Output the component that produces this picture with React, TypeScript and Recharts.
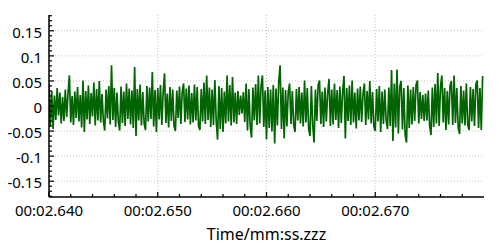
import { LineChart, Line, XAxis, YAxis, CartesianGrid } from 'recharts';

const START_TIME = 2.64;
const SAMPLE_STEP = 0.000125;

// amplitude samples, left to right
const SIGNAL = [
  0.044, -0.041, 0.030, -0.046, 0.021, -0.028, 0.036, -0.019, 0.027, -0.035, 0.018, -0.030, 0.033, -0.022, 0.025, 0.061, -0.033, 0.020, -0.038, 0.029,
  -0.024, 0.038, -0.031, 0.022, -0.043, 0.051, -0.052, 0.030, -0.027, 0.041, -0.036, 0.026, -0.021, 0.047, -0.039, 0.034, -0.029, 0.050, -0.033, 0.024,
  -0.030, -0.049, 0.033, -0.025, 0.040, -0.037, 0.081, -0.028, 0.036, -0.042, 0.027, -0.031, -0.049, 0.039, -0.034, 0.029, -0.040, 0.045, -0.026, 0.035,
  -0.037, 0.031, -0.044, 0.078, -0.060, 0.034, -0.029, 0.043, -0.039, 0.028, -0.035, -0.048, 0.040, -0.031, 0.037, -0.026, 0.068, -0.041, 0.032, -0.052,
  0.036, -0.027, 0.042, -0.038, 0.029, 0.065, -0.034, 0.025, -0.043, 0.038, -0.030, 0.033, -0.041, -0.050, 0.031, -0.024, 0.039, -0.036, 0.028, 0.045,
  -0.032, 0.035, -0.027, 0.041, -0.037, 0.026, -0.033, 0.043, -0.029, 0.038, -0.040, -0.048, 0.034, -0.031, 0.047, -0.036, 0.061, -0.028, 0.037, -0.042,
  0.033, -0.038, 0.052, -0.030, -0.067, 0.040, -0.046, 0.036, -0.052, 0.029, -0.035, 0.061, -0.031, 0.042, -0.039, 0.058, -0.033, 0.027, -0.036, 0.030,
  -0.018, 0.021, -0.015, 0.028, -0.032, 0.045, -0.049, 0.034, -0.040, -0.063, 0.037, -0.029, 0.044, -0.038, 0.061, -0.035, 0.040, 0.061, -0.042, 0.031,
  -0.067, 0.038, -0.044, 0.033, -0.051, 0.042, -0.075, 0.035, -0.039, 0.047, 0.081, -0.046, 0.037, -0.065, 0.032, -0.041, 0.028, 0.045, -0.036, 0.030,
  -0.038, -0.052, 0.034, -0.029, 0.038, -0.035, 0.027, -0.041, 0.051, -0.033, 0.036, -0.045, -0.060, 0.040, -0.038, -0.073, 0.033, -0.030, 0.042, 0.051,
  -0.036, 0.029, -0.042, 0.037, -0.031, 0.026, 0.054, -0.040, 0.033, -0.037, 0.045, -0.028, 0.032, -0.044, 0.039, -0.034, 0.028, 0.060, -0.065, 0.036,
  -0.030, 0.041, -0.038, 0.051, -0.033, 0.027, -0.045, 0.035, -0.029, 0.039, -0.032, 0.024, 0.045, -0.038, 0.030, -0.027, 0.050, -0.035, 0.028, -0.041,
  -0.050, 0.034, -0.031, 0.040, -0.052, 0.029, -0.036, 0.033, -0.028, -0.046, 0.037, -0.040, 0.072, -0.070, 0.045, -0.043, 0.073, -0.055, 0.038, 0.050,
  -0.047, 0.036, -0.058, -0.073, 0.041, -0.044, 0.033, -0.037, 0.038, -0.030, 0.042, 0.051, -0.035, 0.028, -0.026, 0.022, -0.030, 0.025, -0.029, 0.031,
  -0.039, -0.058, 0.037, -0.042, 0.044, -0.035, 0.066, -0.040, 0.039, 0.061, -0.033, 0.036, -0.048, 0.030, -0.037, 0.041, 0.050, -0.038, 0.061, -0.034,
  0.036, -0.042, -0.056, 0.040, -0.035, 0.031, -0.039, 0.045, -0.037, -0.048, 0.038, -0.031, 0.034, -0.040, 0.043, 0.051, -0.044, 0.036, -0.048, 0.060,
];

const X_MAJOR = [2.64, 2.65, 2.66, 2.67];
const X_MINOR = [
  2.642, 2.644, 2.646, 2.648, 2.652, 2.654, 2.656, 2.658,
  2.662, 2.664, 2.666, 2.668, 2.672, 2.674, 2.676, 2.678,
];
const X_GRID = [2.65, 2.66, 2.67];
const Y_MAJOR = [-0.15, -0.1, -0.05, 0, 0.05, 0.1, 0.15];
const Y_MINOR = [
  -0.18, -0.17, -0.16, -0.14, -0.13, -0.12, -0.11, -0.09, -0.08, -0.07, -0.06,
  -0.04, -0.03, -0.02, -0.01, 0.01, 0.02, 0.03, 0.04, 0.06, 0.07, 0.08, 0.09,
  0.11, 0.12, 0.13, 0.14, 0.16, 0.17, 0.18,
];

const FONT = '"Noto Sans", sans-serif';
const GREEN = '#006400';

const data = SIGNAL.map((v, i) => ({ t: START_TIME + i * SAMPLE_STEP, v }));
const xTicks = [...X_MAJOR, ...X_MINOR].sort((a, b) => a - b);
const yTicks = [...Y_MAJOR, ...Y_MINOR].sort((a, b) => a - b);

const isIn = (list: number[], v: number) => list.some((m) => Math.abs(m - v) < 1e-7);

const fmtTime = (t: number) => `00:${t.toFixed(3).padStart(6, '0')}`;

function TimeTick(props: any) {
  const { x, y, payload } = props;
  const major = isIn(X_MAJOR, payload.value);
  return (
    <g>
      <line x1={x} x2={x} y1={y} y2={y - (major ? 5 : 3)} stroke="#000" strokeWidth={1.2} />
      {major && (
        <text x={x} y={y + 19} textAnchor="middle" fontFamily={FONT} fontSize={15} fill="#000">
          {fmtTime(payload.value)}
        </text>
      )}
    </g>
  );
}

function ValueTick(props: any) {
  const { x, y, payload } = props;
  const major = isIn(Y_MAJOR, payload.value);
  return (
    <g>
      <line x1={x} x2={x + (major ? 5 : 3)} y1={y} y2={y} stroke="#000" strokeWidth={1.2} />
      {major && (
        <text x={x - 7} y={y + 7} textAnchor="end" fontFamily={FONT} fontSize={15} fill="#000">
          {String(Number(payload.value.toFixed(2)))}
        </text>
      )}
    </g>
  );
}

export default function App() {
  return (
    <div style={{ position: 'absolute', left: 0, top: 0, background: '#fff' }}>
      <LineChart width={499} height={252} data={data} margin={{ top: 15, right: 15, bottom: 0, left: 0 }}>
        <CartesianGrid
          stroke="#c4c4c4"
          strokeDasharray="1 2"
          horizontalValues={Y_MAJOR}
          verticalValues={X_GRID}
        />
        <XAxis
          dataKey="t"
          type="number"
          domain={[2.64, 2.68]}
          allowDataOverflow
          ticks={xTicks}
          interval={0}
          tick={TimeTick}
          tickLine={false}
          tickSize={0}
          tickMargin={0}
          height={55}
          axisLine={{ stroke: '#000', strokeWidth: 1.5 }}
          label={{
            value: 'Time/mm:ss.zzz',
            position: 'insideBottom',
            offset: 12,
            style: { fontFamily: FONT, fontSize: 16, fill: '#000' },
          }}
        />
        <YAxis
          type="number"
          domain={[-0.1815, 0.1815]}
          allowDataOverflow
          ticks={yTicks}
          interval={0}
          tick={ValueTick}
          tickLine={false}
          tickSize={0}
          tickMargin={0}
          width={49}
          axisLine={{ stroke: '#000', strokeWidth: 1.5 }}
        />
        <Line
          type="linear"
          dataKey="v"
          stroke={GREEN}
          strokeWidth={1.7}
          strokeLinejoin="bevel"
          dot={false}
          isAnimationActive={false}
        />
      </LineChart>
    </div>
  );
}
